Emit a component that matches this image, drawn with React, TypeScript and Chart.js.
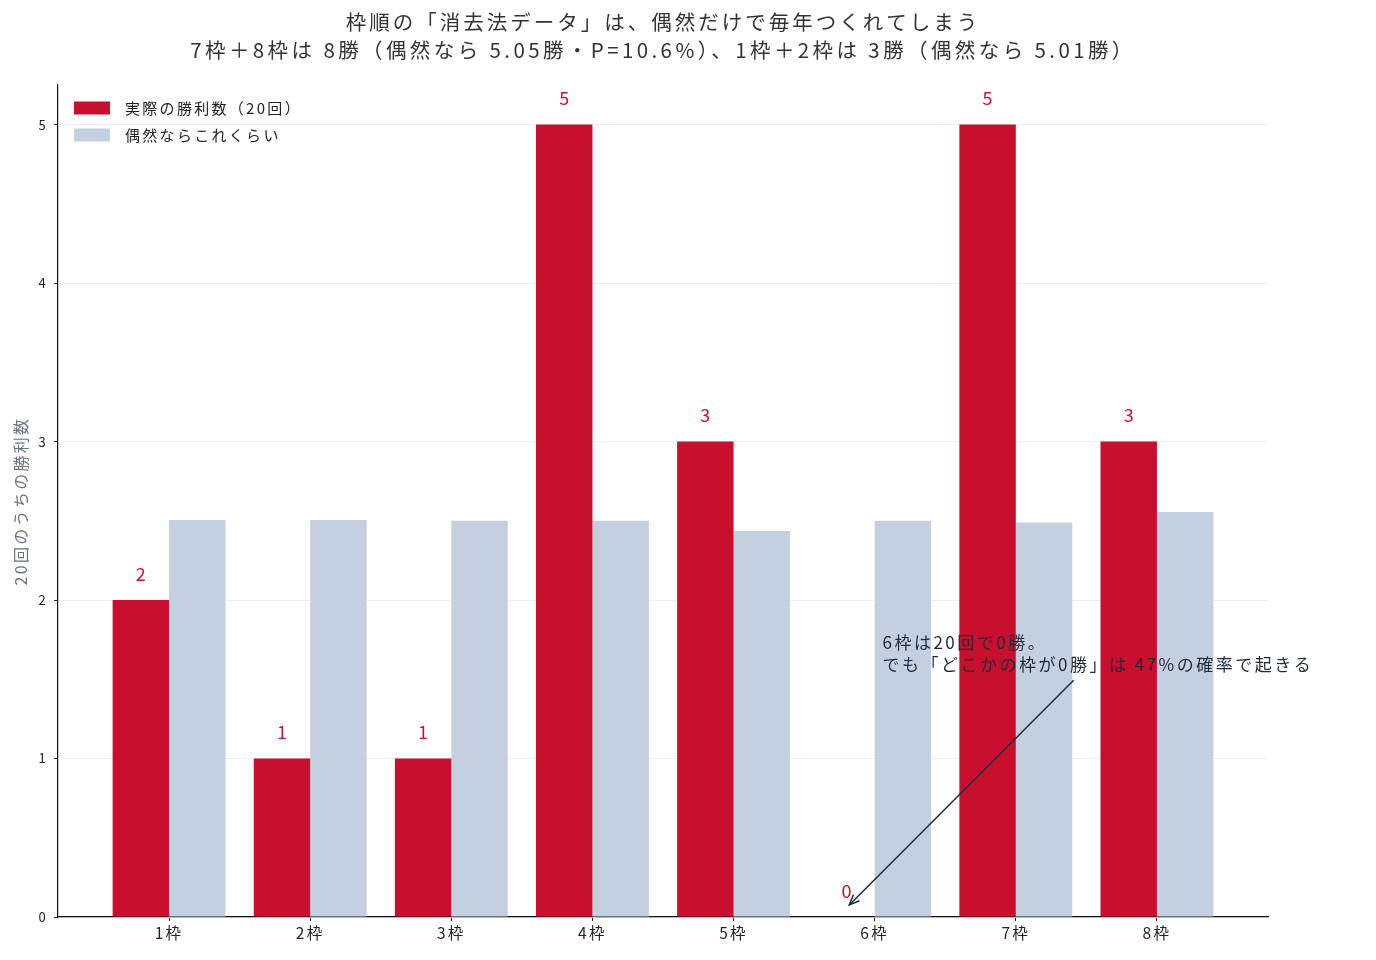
import React, { useEffect, useRef } from 'react';
import { Chart, registerables } from 'chart.js';
Chart.register(...registerables);

const gateLabels = ['1枠', '2枠', '3枠', '4枠', '5枠', '6枠', '7枠', '8枠'];
const actualWins = [2, 1, 1, 5, 3, 0, 5, 3];
const expectedWins = [2.505, 2.505, 2.5, 2.5, 2.435, 2.5, 2.49, 2.555];
const yTicks = [0, 1, 2, 3, 4, 5];

const titleLines = [
	'枠順の「消去法データ」は、偶然だけで毎年つくれてしまう',
	'7枠＋8枠は 8勝（偶然なら 5.05勝・P=10.6%）、1枠＋2枠は 3勝（偶然なら 5.01勝）',
];
const noteLines = ['6枠は20回で0勝。', 'でも「どこかの枠が0勝」は 47%の確率で起きる'];

const RED = '#c8102e';
const GRAY = '#c4d0e0';
const FONT = '"Noto Sans CJK JP", "Noto Sans", sans-serif';
const SPACING = '2.3px';

const setSpacing = (ctx: any, s: string) => {
	if ('letterSpacing' in ctx) ctx.letterSpacing = s;
};

// the reference font is wider than Noto CJK, so open the tracking a little
const tracking = {
	id: 'tracking',
	beforeUpdate(chart: any) {
		setSpacing(chart.ctx, SPACING);
	},
	beforeDraw(chart: any) {
		setSpacing(chart.ctx, SPACING);
	},
};

const titleAndLegend = {
	id: 'titleAndLegend',
	afterDraw(chart: any) {
		const { ctx, chartArea } = chart;
		ctx.save();
		ctx.fillStyle = '#333';
		ctx.font = `20.5px ${FONT}`;
		ctx.textAlign = 'center';
		ctx.textBaseline = 'middle';
		const cx = (chartArea.left + chartArea.right) / 2;
		setSpacing(ctx, '3px');
		ctx.fillText(titleLines[0], cx, 22);
		setSpacing(ctx, '3.4px');
		ctx.fillText(titleLines[1], cx, 50);

		setSpacing(ctx, '2.3px');
		ctx.font = `15px ${FONT}`;
		ctx.textAlign = 'left';
		chart.data.datasets.forEach((ds: any, i: number) => {
			const y = chartArea.top + 23 + i * 27;
			ctx.fillStyle = ds.backgroundColor;
			ctx.fillRect(chartArea.left + 16, y - 6.5, 36, 13);
			ctx.fillStyle = '#222';
			ctx.fillText(ds.label, chartArea.left + 67, y);
		});
		ctx.restore();
	},
};

// value labels over the red bars
const valueLabels = {
	id: 'valueLabels',
	afterDatasetsDraw(chart: any) {
		const ctx = chart.ctx;
		const meta = chart.getDatasetMeta(0);
		ctx.save();
		setSpacing(ctx, '0px');
		ctx.fillStyle = RED;
		ctx.font = `18px ${FONT}`;
		ctx.textAlign = 'center';
		ctx.textBaseline = 'middle';
		meta.data.forEach((bar: any, i: number) => {
			ctx.fillText(String(actualWins[i]), bar.x, bar.y - 26);
		});
		ctx.restore();
	},
};

// note with arrow pointing at the empty 6枠 bar
const note = {
	id: 'note',
	afterDraw(chart: any) {
		const { ctx, scales } = chart;
		const x = scales.x;
		const y = scales.y;
		ctx.save();
		setSpacing(ctx, '2.5px');
		ctx.fillStyle = '#1f2937';
		ctx.font = `17px ${FONT}`;
		ctx.textAlign = 'left';
		ctx.textBaseline = 'middle';
		const tx = x.getPixelForValue(5.055);
		const ty = y.getPixelForValue(1.73);
		noteLines.forEach((line, i) => ctx.fillText(line, tx, ty + i * 22));

		const x0 = x.getPixelForValue(6.41);
		const y0 = y.getPixelForValue(1.494);
		const x1 = x.getPixelForValue(4.82);
		const y1 = y.getPixelForValue(0.076);
		ctx.strokeStyle = '#1f2937';
		ctx.lineWidth = 1.5;
		ctx.beginPath();
		ctx.moveTo(x0, y0);
		ctx.lineTo(x1, y1);
		ctx.stroke();
		const a = Math.atan2(y1 - y0, x1 - x0);
		const h = 11;
		ctx.beginPath();
		ctx.moveTo(x1 - h * Math.cos(a - 0.4), y1 - h * Math.sin(a - 0.4));
		ctx.lineTo(x1, y1);
		ctx.lineTo(x1 - h * Math.cos(a + 0.4), y1 - h * Math.sin(a + 0.4));
		ctx.stroke();
		ctx.restore();
	},
};

const App = () => {
	const canvasRef = useRef<HTMLCanvasElement>(null);

	useEffect(() => {
		document.body.style.margin = '0';
		const chart = new Chart(canvasRef.current!, {
			type: 'bar',
			data: {
				datasets: [
					{
						label: '実際の勝利数（20回）',
						data: actualWins.map((v, i) => ({ x: i, y: v })),
						backgroundColor: RED,
						categoryPercentage: 0.8,
						barPercentage: 1.0,
					},
					{
						label: '偶然ならこれくらい',
						data: expectedWins.map((v, i) => ({ x: i, y: v })),
						backgroundColor: GRAY,
						categoryPercentage: 0.8,
						barPercentage: 1.0,
					},
				],
			},
			options: {
				animation: false,
				responsive: false,
				layout: { padding: { top: 85, right: 108 } },
				plugins: {
					title: { display: false },
					legend: { display: false },
					tooltip: { enabled: false },
				},
				scales: {
					x: {
						type: 'linear',
						offset: false,
						min: -0.787,
						max: 7.787,
						afterBuildTicks: (axis: any) => {
							axis.ticks = gateLabels.map((_, i) => ({ value: i }));
						},
						afterFit: (axis: any) => {
							axis.height = 43;
						},
						ticks: {
							callback: (v: any) => gateLabels[v] ?? '',
							color: '#222',
							font: { family: FONT, size: 15.5 },
							padding: 3,
							maxRotation: 0,
						},
						grid: { offset: false, drawOnChartArea: false, tickLength: 4, tickColor: '#222' },
						border: { color: '#111', width: 1.2 },
					},
					y: {
						min: 0,
						max: 5.25,
						afterBuildTicks: (axis: any) => {
							axis.ticks = yTicks.map((v) => ({ value: v }));
						},
						afterFit: (axis: any) => {
							axis.width = 58;
						},
						title: {
							display: true,
							text: '20回のうちの勝利数',
							color: '#6b7280',
							font: { family: FONT, size: 16 },
							padding: { top: 11, bottom: 0 },
						},
						ticks: {
							color: '#222',
							font: { family: FONT, size: 13 },
							padding: 6,
						},
						grid: { color: '#efefef', tickLength: 4, tickColor: '#222' },
						border: { color: '#111', width: 1.2 },
					},
				},
			},
			plugins: [tracking, valueLabels, note, titleAndLegend],
		} as any);
		return () => chart.destroy();
	}, []);

	return <canvas ref={canvasRef} width={1376} height={960} />;
};

export default App;
